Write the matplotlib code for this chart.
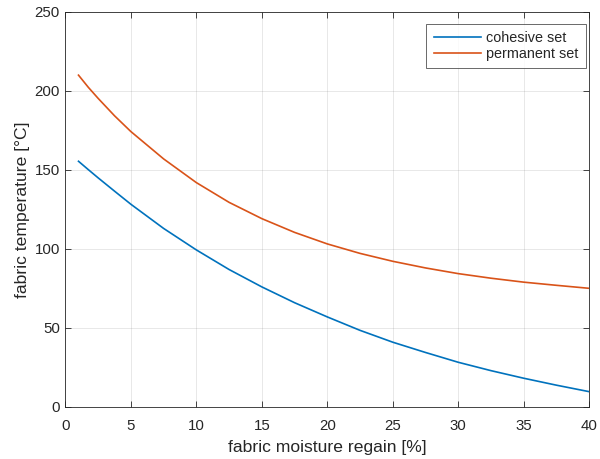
import matplotlib
matplotlib.use("Agg")
import matplotlib.pyplot as plt

regain = [1, 1.75, 2.5, 3.75, 5, 7.5, 10, 12.5, 15, 17.5, 20, 22.5, 25, 27.5, 30, 32.5, 35, 37.5, 40]
cohesive = [155.5, 150.2, 145, 136.6, 128.3, 113, 99.4, 87, 76, 66, 57, 48.5, 41, 34.5, 28.3, 23, 18.2, 13.8, 9.7]
permanent = [210, 202.3, 195.3, 184.3, 174.3, 157, 142, 129.5, 119.2, 110.5, 103.2, 97.2, 92.2, 88, 84.4, 81.5, 79, 77, 75.1]

plt.rcParams['font.family'] = ['Liberation Sans', 'DejaVu Sans']

fig = plt.figure(figsize=(6.0, 4.59), dpi=100)
ax = fig.add_axes([0.109, 0.1133, 0.873, 0.8607])

ax.plot(regain, cohesive, color='#0072BD', lw=1.2, label='cohesive set')
ax.plot(regain, permanent, color='#D95319', lw=1.2, label='permanent set')

ax.set_xlim(0, 40)
ax.set_ylim(0, 250)
ax.set_xticks(range(0, 41, 5))
ax.set_yticks(range(0, 251, 50))
ax.grid(True, color='#262626', alpha=0.12, lw=0.6)
ax.tick_params(direction='in', top=True, right=True, length=4, width=0.6,
               colors='#262626', labelsize=10.8)
ax.tick_params(axis='x', pad=9)
ax.tick_params(axis='y', pad=4)
for s in ax.spines.values():
    s.set_color('#262626')
    s.set_linewidth(0.6)

ax.set_xlabel('fabric moisture regain [%]', fontsize=12.6, color='#262626', labelpad=5)
ax.set_ylabel('fabric temperature [°C]', fontsize=12.6, color='#262626', labelpad=3)

leg = ax.legend(loc='upper right', bbox_to_anchor=(0.9937, 0.9696), borderaxespad=0,
                fontsize=10.4, frameon=True, fancybox=False,
                edgecolor='#262626', handlelength=3.3,
                handletextpad=0.35, labelspacing=0.1, borderpad=0.5)
leg.get_frame().set_linewidth(0.6)
for t in leg.get_texts():
    t.set_color('#262626')

fig.savefig('out.png', dpi=100)
